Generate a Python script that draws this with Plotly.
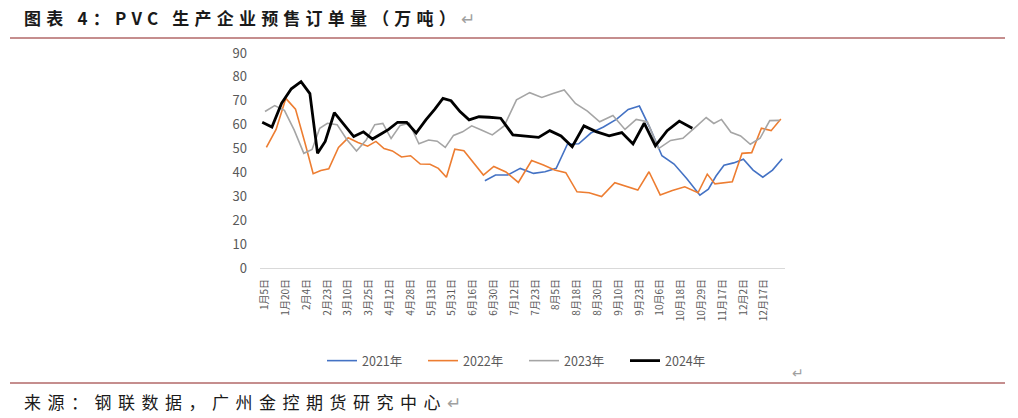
import numpy as np
import plotly.graph_objects as go
from datetime import date

# ---------------- data ----------------
tick_labels = ["1月5日", "1月20日", "2月4日", "2月23日", "3月10日", "3月25日", "4月12日",
               "4月28日", "5月13日", "5月31日", "6月16日", "6月30日", "7月12日", "7月23日",
               "8月5日", "8月18日", "8月30日", "9月10日", "9月23日", "10月6日", "10月18日",
               "10月29日", "11月17日", "12月2日", "12月17日"]
# month/day of each tick label (the category axis shows them evenly spaced)
tick_dates = [(1, 5), (1, 20), (2, 4), (2, 23), (3, 10), (3, 25), (4, 12), (4, 28), (5, 13),
              (5, 31), (6, 16), (6, 30), (7, 12), (7, 23), (8, 5), (8, 18), (8, 30), (9, 10),
              (9, 23), (10, 6), (10, 18), (10, 29), (11, 17), (12, 2), (12, 17)]

series_names = ["2021年", "2022年", "2023年", "2024年"]
# first weekly observation (month, day) of each year
series_start = {"2021年": (6, 24), "2022年": (1, 6), "2023年": (1, 5), "2024年": (1, 3)}

v2021 = [36.5, 38.9, 38.9, 41.7, 39.6, 40.3, 41.7, 51.8, 52, 56.5, 59, 62.3, 66.4, 67.8,
         58, 47, 43.5, 37.5, 30.5, 33, 38.5, 43, 44, 45.5, 41, 38, 41, 45.7]
v2022 = [50.5, 58, 71, 66.5, 52, 39.5, 40.8, 41.5, 50.5, 54.5, 52.5, 51, 53, 50, 49, 46.5,
         47, 43.5, 43.4, 41.7, 38, 49.7, 49.1, 44.5, 38.9, 42.5, 40.2, 35.8, 45, 43.1, 41,
         39.9, 31.9, 31.5, 29.9, 35.7, 34, 32.6, 40.3, 30.6, 32.4, 34, 31.5, 39.3, 35.2,
         35.7, 36.1, 48, 48.3, 58.5, 57.5, 62.4]
v2023 = [65.5, 68, 66, 57.8, 48, 49.6, 58.5, 60.6, 60, 53.8, 49, 53.6, 60, 60.5, 54.2, 59.7,
         60.6, 52, 53.6, 53.1, 50.5, 55.5, 57, 59.5, 57.7, 55.7, 59.5, 70.4, 73.4, 71.4, 73,
         74.5, 68.9, 65.7, 61.2, 63.8, 58, 62.2, 61.2, 50, 53.4, 54.3, 59.2, 63, 60.5, 62.2,
         56.8, 55.3, 51.8, 54.3, 61.7, 61.8]
v2024 = [61, 59, 69, 75, 78, 73, 48, 53, 65, 60, 55, 57, 54, 56, 58, 61, 61, 56.5, 62, 66.5,
         71, 70, 65.5, 62, 63.3, 63.1, 62.7, 55.7, 55.3, 54.7, 57.5, 55.3, 50.8, 59.5, 57.1,
         55.3, 56.7, 51.9, 60.6, 51.1, 57.5, 61.5, 58.5]
series_values = {"2021年": v2021, "2022年": v2022, "2023年": v2023, "2024年": v2024}

colors = {"2021年": "#4472C4", "2022年": "#ED7D31", "2023年": "#A5A5A5", "2024年": "#000000"}
widths = {"2021年": 1.6, "2022年": 1.6, "2023年": 1.6, "2024年": 2.8}

# ---------------- axis scale ----------------
def doy(m, d):
    return date(2023, m, d).timetuple().tm_yday

tick_doy = np.array([doy(m, d) for m, d in tick_dates], dtype=float)
tick_idx = np.arange(len(tick_labels), dtype=float)


def to_axis(days):
    days = np.asarray(days, dtype=float)
    p = np.interp(days, tick_doy, tick_idx)
    hi = tick_idx[-1] + (days - tick_doy[-1]) / (tick_doy[-1] - tick_doy[-2])
    lo = (days - tick_doy[0]) / (tick_doy[1] - tick_doy[0])
    p = np.where(days > tick_doy[-1], hi, p)
    p = np.where(days < tick_doy[0], lo, p)
    return p


fig = go.Figure()
for name in series_names:
    vals = series_values[name]
    m, d = series_start[name]
    days = doy(m, d) + 7 * np.arange(len(vals))
    fig.add_trace(go.Scatter(
        x=to_axis(days), y=vals, mode="lines", name=name,
        line=dict(color=colors[name], width=widths[name]),
        hoverinfo="skip"))

# ---------------- layout ----------------
L, R, T, B = 260, 785, 53, 268
W, H = 1018, 418
pw, ph = R - L, B - T


def px(x):
    return (x - L) / pw


def py(y):
    return (B - y) / ph


fig.update_layout(
    width=W, height=H,
    margin=dict(l=L, r=W - R, t=T, b=H - B, pad=0),
    paper_bgcolor="white", plot_bgcolor="white",
    font=dict(family="Noto Sans CJK SC", color="#595959"),
    showlegend=True,
    legend=dict(orientation="h", x=px(322), xanchor="left", y=py(361), yanchor="middle",
                font=dict(size=12.5, color="#595959"), entrywidth=56,
                entrywidthmode="pixels", itemwidth=30, bgcolor="rgba(0,0,0,0)",
                tracegroupgap=0),
    xaxis=dict(range=[-0.24, 25.0], tickmode="array", tickvals=tick_idx,
               ticktext=tick_labels, tickangle=-90, showgrid=False, zeroline=False,
               showline=True, linecolor="#D9D9D9", linewidth=1, ticks="",
               tickfont=dict(size=10, color="#595959"), ticklabelstandoff=6),
    yaxis=dict(range=[0, 90], dtick=10, showgrid=False, zeroline=False, showline=False,
               ticks="", tickfont=dict(size=13, color="#595959"), ticklabelstandoff=12),
)

red = "#8B1C1C"
fig.add_shape(type="line", xref="paper", yref="paper", x0=px(10), x1=px(1005),
              y0=py(38), y1=py(38), line=dict(color=red, width=1))
fig.add_shape(type="line", xref="paper", yref="paper", x0=px(10), x1=px(1005),
              y0=py(383), y1=py(383), line=dict(color=red, width=1))

fig.add_annotation(xref="paper", yref="paper", x=px(22), y=py(18), xanchor="left",
                   yanchor="middle", showarrow=False,
                   text="<b>图表 4：PVC 生产企业预售订单量（万吨）</b><span style='color:#A0A0A0'>↵</span>",
                   font=dict(size=17, color="#1A1A1A", family="Noto Sans CJK SC"))
fig.add_annotation(xref="paper", yref="paper", x=px(22), y=py(401), xanchor="left",
                   yanchor="middle", showarrow=False,
                   text="来源：钢联数据，广州金控期货研究中心<span style='color:#A0A0A0'>↵</span>",
                   font=dict(size=17, color="#1A1A1A", family="Noto Sans CJK SC"))
fig.add_annotation(xref="paper", yref="paper", x=px(798), y=py(372), xanchor="center",
                   yanchor="middle", showarrow=False, text="↵",
                   font=dict(size=14, color="#A0A0A0"))

post = """
document.body.style.margin = '0';
var gd = document.getElementById('{plot_id}');
gd.querySelectorAll('.annotation-text').forEach(function(t){
  var s = t.textContent || '';
  var sp = null;
  if (s.indexOf('图表') === 0) { sp = '5.2px'; }
  if (s.indexOf('来源') === 0) { sp = '6.5px'; }
  if (sp) {
    var left = t.getBBox().x;
    t.style.letterSpacing = sp;
    t.setAttribute('text-anchor', 'start');
    t.setAttribute('x', left);
    t.querySelectorAll('tspan[x]').forEach(function(ts){ ts.setAttribute('x', left); });
  }
});
"""
fig.write_html("out.html", post_script=post, config={"displayModeBar": False})
